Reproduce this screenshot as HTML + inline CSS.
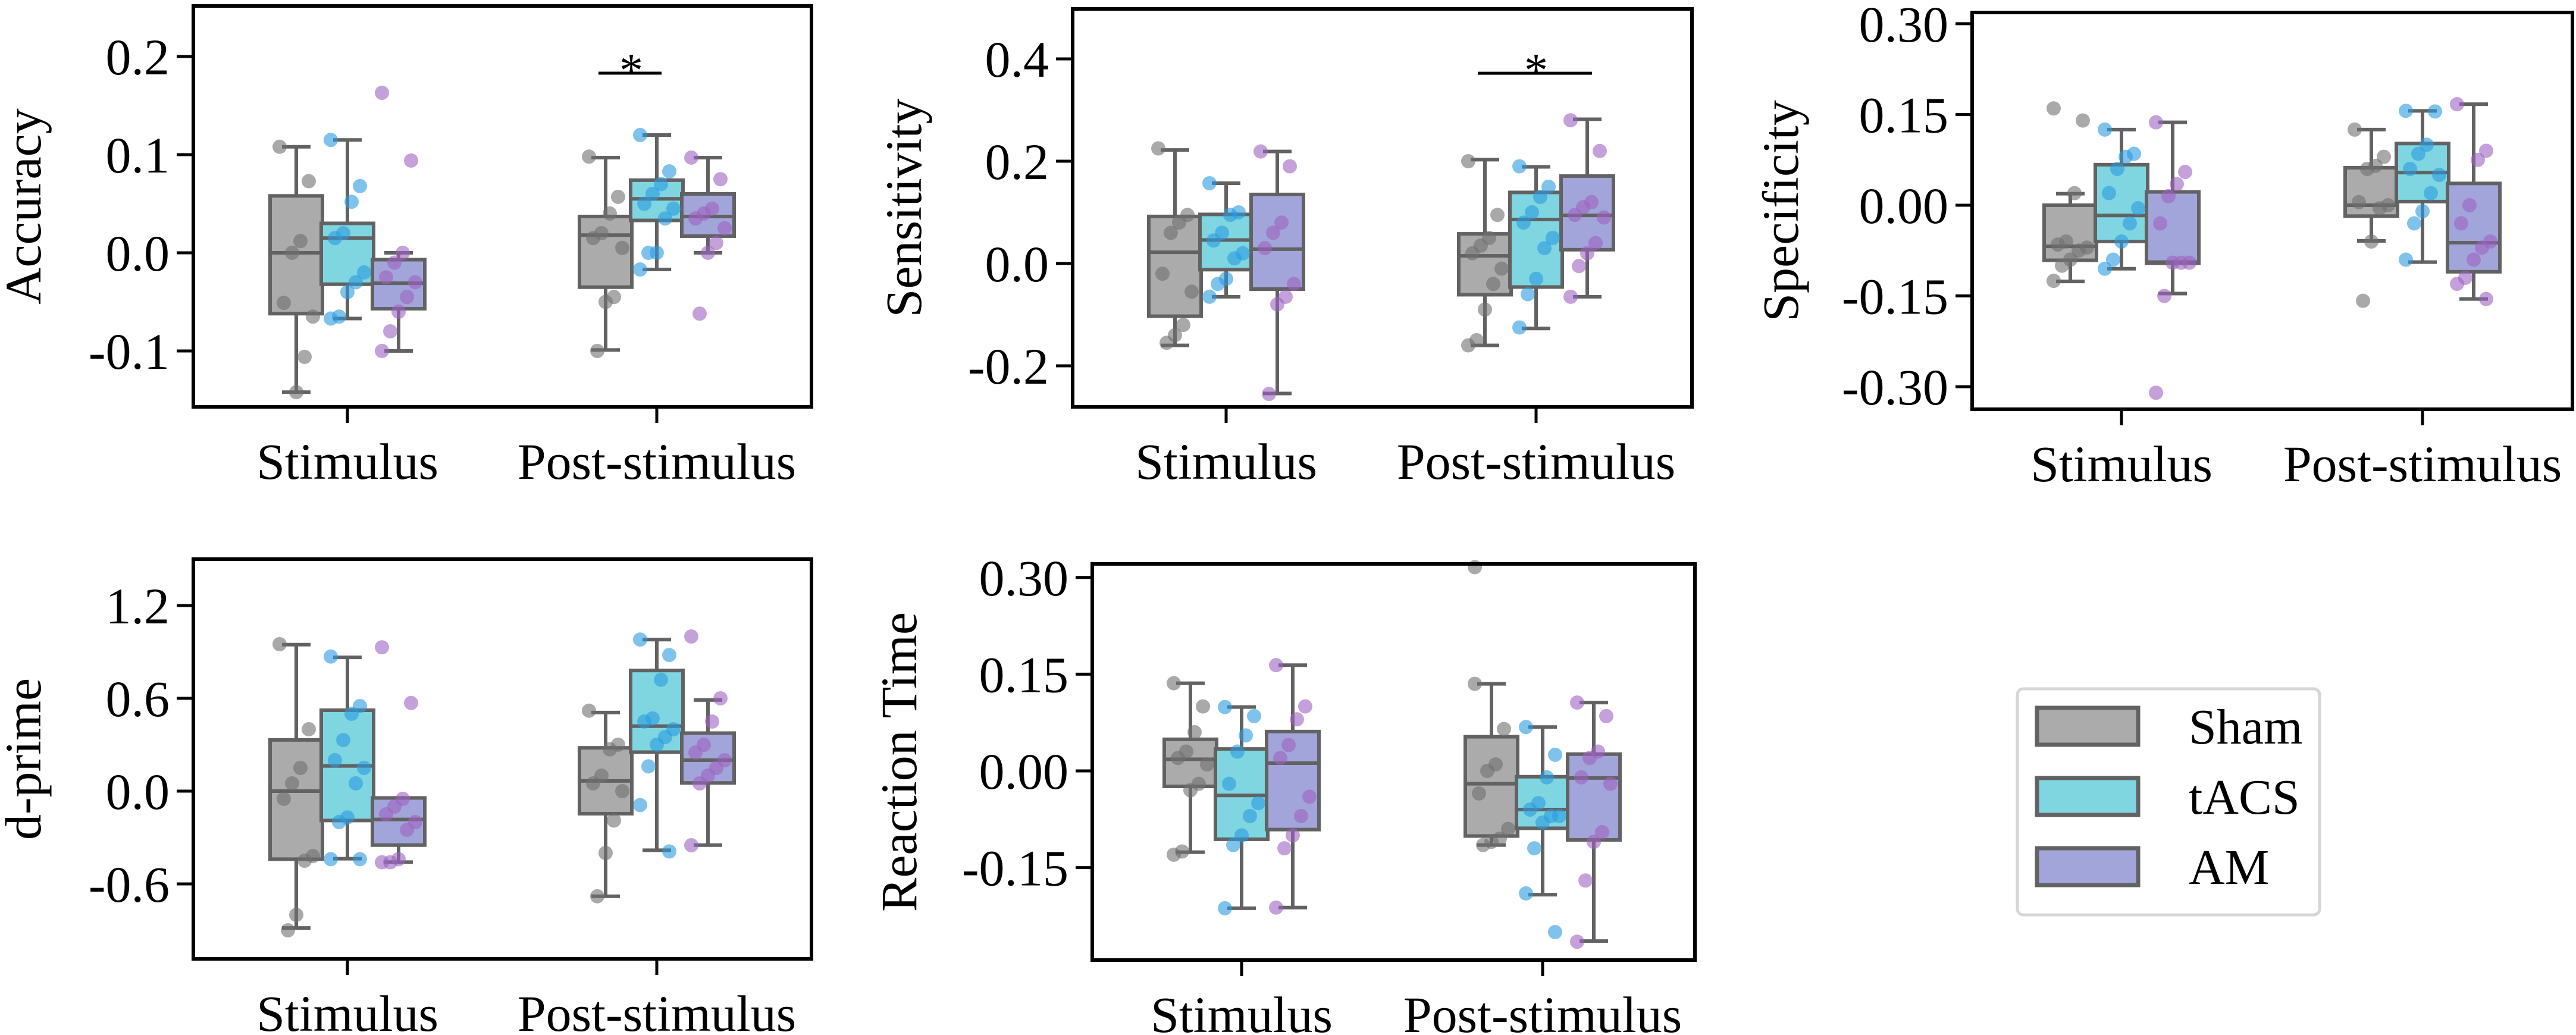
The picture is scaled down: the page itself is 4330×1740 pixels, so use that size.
<!DOCTYPE html>
<html><head><meta charset="utf-8">
<style>
html,body{margin:0;padding:0;background:#fff;}
svg{display:block;}
text{font-family:"Liberation Serif","DejaVu Serif",serif;fill:#000;}
</style></head>
<body>
<svg id="fig" width="4330" height="1740" viewBox="0 0 4330 1740" xmlns="http://www.w3.org/2000/svg"></svg>
<script>
// ---- data ----
const categories = ["Stimulus", "Post-stimulus"];
const groups = ["Sham", "tACS", "AM"];
// box stats per panel: [cat][group] = [whiskerLow, q1, median, q3, whiskerHigh]
const accuracyBoxes = [
  [[-0.142,-0.062,0.0,0.058,0.108],[-0.067,-0.032,0.015,0.03,0.115],[-0.1,-0.057,-0.031,-0.007,0.0]],
  [[-0.099,-0.035,0.018,0.037,0.097],[-0.017,0.033,0.055,0.074,0.12],[0.0,0.017,0.037,0.06,0.097]]
];
const accuracyPoints = [
  [[0.108,0.073,0.012,0.0,-0.051,-0.065,-0.106,-0.142],[0.115,0.068,0.052,0.02,0.015,-0.02,-0.03,-0.04,-0.065,-0.067],[0.163,0.094,0.0,-0.01,-0.025,-0.03,-0.045,-0.06,-0.08,-0.1]],
  [[0.098,0.057,0.04,0.02,0.015,0.005,-0.045,-0.05,-0.1],[0.12,0.083,0.07,0.06,0.05,0.045,0.035,0.0,0.0,-0.017],[0.097,0.075,0.045,0.04,0.035,0.025,0.01,0.0,-0.062]]
];
const sensitivityBoxes = [
  [[-0.16,-0.103,0.022,0.092,0.222],[-0.065,-0.012,0.046,0.096,0.157],[-0.254,-0.05,0.028,0.135,0.219]],
  [[-0.16,-0.061,0.015,0.058,0.203],[-0.127,-0.046,0.086,0.139,0.189],[-0.065,0.027,0.094,0.171,0.282]]
];
const sensitivityPoints = [
  [[0.225,0.095,0.08,0.06,-0.02,-0.055,-0.12,-0.14,-0.155],[0.157,0.1,0.095,0.06,0.045,0.02,0.01,-0.03,-0.04,-0.065],[0.219,0.19,0.08,0.06,0.03,-0.04,-0.065,-0.08,-0.255]],
  [[0.2,0.095,0.05,0.035,0.02,-0.01,-0.04,-0.09,-0.15,-0.16],[0.19,0.15,0.13,0.1,0.08,0.05,0.03,-0.03,-0.06,-0.125],[0.28,0.22,0.12,0.11,0.095,0.09,0.04,0.02,-0.005,-0.065]]
];
const specificityBoxes = [
  [[-0.126,-0.091,-0.068,0.0,0.019],[-0.105,-0.06,-0.017,0.067,0.125],[-0.146,-0.096,-0.094,0.022,0.137]],
  [[-0.059,-0.018,0.0,0.062,0.125],[-0.094,0.006,0.054,0.102,0.156],[-0.155,-0.11,-0.062,0.036,0.167]]
];
const specificityPoints = [
  [[0.16,0.14,0.02,-0.06,-0.065,-0.07,-0.075,-0.09,-0.1,-0.125],[0.125,0.085,0.08,0.06,0.02,-0.005,-0.03,-0.06,-0.09,-0.105],[0.137,0.055,0.035,0.015,-0.03,-0.095,-0.095,-0.095,-0.15,-0.31]],
  [[0.125,0.08,0.065,0.06,0.005,0.0,-0.005,-0.06,-0.158],[0.156,0.155,0.1,0.085,0.06,0.05,0.02,-0.01,-0.03,-0.09],[0.167,0.09,0.075,0.0,-0.03,-0.06,-0.07,-0.09,-0.12,-0.13,-0.155]]
];
const dprimeBoxes = [
  [[-0.885,-0.44,0.0,0.331,0.947],[-0.437,-0.19,0.163,0.523,0.865],[-0.459,-0.349,-0.183,-0.044,-0.044]],
  [[-0.68,-0.146,0.066,0.28,0.508],[-0.382,0.252,0.42,0.78,0.98],[-0.349,0.053,0.2,0.375,0.589]]
];
const dprimePoints = [
  [[0.95,0.4,0.15,0.05,-0.05,-0.42,-0.45,-0.8,-0.9],[0.87,0.55,0.5,0.33,0.2,0.15,0.05,-0.17,-0.2,-0.44,-0.44],[0.93,0.57,-0.05,-0.1,-0.15,-0.2,-0.25,-0.44,-0.46,-0.46]],
  [[0.52,0.3,0.27,0.1,0.05,0.0,-0.19,-0.4,-0.68],[0.98,0.88,0.72,0.47,0.45,0.4,0.35,0.3,0.16,-0.09,-0.39],[1.0,0.6,0.45,0.3,0.25,0.2,0.15,0.1,0.05,-0.35]]
];
const rtBoxes = [
  [[-0.126,-0.024,0.018,0.049,0.136],[-0.213,-0.106,-0.038,0.034,0.099],[-0.212,-0.091,0.012,0.061,0.164]],
  [[-0.115,-0.101,-0.02,0.053,0.135],[-0.192,-0.089,-0.06,-0.009,0.068],[-0.264,-0.107,-0.011,0.026,0.106]]
];
const rtPoints = [
  [[0.136,0.1,0.06,0.03,0.02,0.01,-0.02,-0.03,-0.125,-0.13],[0.099,0.085,0.055,0.03,-0.02,-0.05,-0.07,-0.1,-0.115,-0.213],[0.164,0.1,0.08,0.04,0.02,-0.04,-0.07,-0.1,-0.12,-0.212]],
  [[0.135,0.065,0.01,0.0,-0.035,-0.09,-0.105,-0.11,-0.115,0.316],[0.068,0.025,-0.01,-0.05,-0.06,-0.07,-0.07,-0.08,-0.12,-0.19,-0.25],[0.106,0.085,0.03,0.02,-0.01,-0.02,-0.095,-0.11,-0.17,-0.265]]
];
const accuracyTicks = [-0.1,0.0,0.1,0.2];
const accuracyTickLabels = ["-0.1","0.0","0.1","0.2"];
const sensitivityTicks = [-0.2,0.0,0.2,0.4];
const sensitivityTickLabels = ["-0.2","0.0","0.2","0.4"];
const specificityTicks = [-0.3,-0.15,0.0,0.15,0.3];
const specificityTickLabels = ["-0.30","-0.15","0.00","0.15","0.30"];
const dprimeTicks = [-0.6,0.0,0.6,1.2];
const dprimeTickLabels = ["-0.6","0.0","0.6","1.2"];
const rtTicks = [-0.15,0.0,0.15,0.3];
const rtTickLabels = ["-0.15","0.00","0.15","0.30"];
// significance: [catIndex, groupA, groupB, value]
const accuracySig = [[1,0,1,0.183]];
const sensitivitySig = [[1,0,2,0.372]];

// ---- layout ----
const NS = "http://www.w3.org/2000/svg";
const svg = document.getElementById("fig");
const boxFill = ["#ababab","#7fd6e1","#a2a5da"];
const ptFill = ["#6f6f6f","#2a9be0","#9c62c2"];
const edge = "#626262";
const FS = 86;

function el(tag, attrs, parent){
  const e = document.createElementNS(NS, tag);
  for (const k in attrs) e.setAttribute(k, attrs[k]);
  (parent||svg).appendChild(e);
  return e;
}
function txt(str, x, y, anchor, parent, size){
  const t = el("text", {x:x, y:y, "text-anchor":anchor, "font-size":size||FS}, parent);
  t.textContent = str;
  return t;
}

function drawPanel(p){
  const g = el("g", {});
  
  
  const yS = v => p.y0 - v * p.ppu;
  const xS = (c, gi) => p.cx[c] + (gi - 1) * 86;
  for (let c = 0; c < 2; c++) for (let gi = 0; gi < 3; gi++) {
    const [wl, q1, md, q3, wh] = p.boxes[c][gi];
    const x = xS(c, gi), hw = 44, cw = 24;
    const bg = el("g", {}, g);
    
    
    el("line", {x1:x, x2:x, y1:yS(q3), y2:yS(wh), stroke:edge, "stroke-width":6}, bg);
    el("line", {x1:x, x2:x, y1:yS(q1), y2:yS(wl), stroke:edge, "stroke-width":6}, bg);
    el("line", {x1:x-cw, x2:x+cw, y1:yS(wh), y2:yS(wh), stroke:edge, "stroke-width":6}, bg);
    el("line", {x1:x-cw, x2:x+cw, y1:yS(wl), y2:yS(wl), stroke:edge, "stroke-width":6}, bg);
    el("rect", {x:x-hw, y:yS(q3), width:2*hw, height:Math.max(1, yS(q1)-yS(q3)), fill:boxFill[gi], stroke:edge, "stroke-width":6}, bg);
    el("line", {x1:x-hw, x2:x+hw, y1:yS(md), y2:yS(md), stroke:edge, "stroke-width":6}, bg);
  }
  for (let c = 0; c < 2; c++) for (let gi = 0; gi < 3; gi++) {
    p.points[c][gi].forEach((v, i) => {
      const off = (((i * 7) % 9) - 4) * 7;
      const d = el("circle", {cx:xS(c, gi) + off, cy:yS(v), r:12, fill:ptFill[gi], "fill-opacity":0.6}, g);
      
      
    });
  }
  const fr = el("rect", {x:p.L, y:p.T, width:p.R-p.L, height:p.B-p.T, fill:"none", stroke:"#000", "stroke-width":6}, g);
  
  
  p.ticks.forEach((v, i) => {
    const y = yS(v);
    el("line", {x1:p.L-28, x2:p.L, y1:y, y2:y, stroke:"#000", "stroke-width":5}, g);
    const t = txt(p.tickLabels[i], p.L - 40, y + 30, "end", g);
    
    
  });
  categories.forEach((c, i) => {
    el("line", {x1:p.cx[i], x2:p.cx[i], y1:p.B, y2:p.B+27, stroke:"#000", "stroke-width":5}, g);
    const t = txt(c, p.cx[i], p.B + 121, "middle", g);
    
    
  });
  const yl = txt(p.label, 0, 0, "middle", g);
  yl.setAttribute("transform", "translate(" + p.ylx + "," + ((p.T + p.B) / 2) + ") rotate(-90)");
  
  
  (p.sig || []).forEach(s => {
    const [c, a, b, v] = s;
    const y = yS(v);
    const sl = el("line", {x1:xS(c, a)-12, x2:xS(c, b)+8, y1:y, y2:y, stroke:"#000", "stroke-width":5}, g);
    
    
    const st = txt("*", (xS(c, a) + xS(c, b)) / 2, y + 22, "middle", g, 80);
    
    
  });
}

drawPanel({name:"accuracy", label:"Accuracy", L:325, R:1364, T:10, B:684, y0:425, ppu:1650, cx:[584,1104], ylx:68, ticks:accuracyTicks, tickLabels:accuracyTickLabels, boxes:accuracyBoxes, points:accuracyPoints, sig:accuracySig});
drawPanel({name:"sensitivity", label:"Sensitivity", L:1803, R:2844, T:15, B:684, y0:443, ppu:860, cx:[2061,2582], ylx:1548, ticks:sensitivityTicks, tickLabels:sensitivityTickLabels, boxes:sensitivityBoxes, points:sensitivityPoints, sig:sensitivitySig});
drawPanel({name:"specificity", label:"Specificity", L:3315, R:4324, T:21, B:688, y0:345, ppu:1017, cx:[3566,4072], ylx:3022, ticks:specificityTicks, tickLabels:specificityTickLabels, boxes:specificityBoxes, points:specificityPoints});
drawPanel({name:"d-prime", label:"d-prime", L:325, R:1364, T:940, B:1612, y0:1330, ppu:260, cx:[584,1104], ylx:68, ticks:dprimeTicks, tickLabels:dprimeTickLabels, boxes:dprimeBoxes, points:dprimePoints});
drawPanel({name:"reaction-time", label:"Reaction Time", L:1836, R:2849, T:948, B:1614, y0:1296, ppu:1084, cx:[2087,2593], ylx:1540, ticks:rtTicks, tickLabels:rtTickLabels, boxes:rtBoxes, points:rtPoints});

const lg = el("g", {});


el("rect", {x:3391, y:1158, width:508, height:380, rx:10, fill:"#fff", stroke:"#d6d6d6", "stroke-width":5}, lg);
groups.forEach((gname, i) => {
  const y = 1190 + i * 118;
  const e = el("g", {}, lg);
  
  
  el("rect", {x:3424, y:y, width:170, height:62, fill:boxFill[i], stroke:edge, "stroke-width":7}, e);
  txt(gname, 3679, y + 60, "start", e, 84);
});
</script>
</body></html>
